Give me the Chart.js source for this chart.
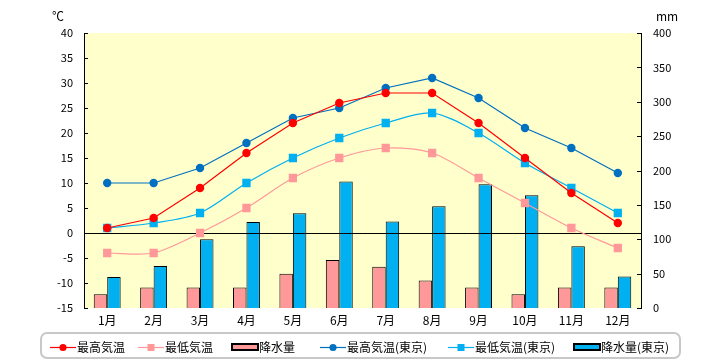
<!DOCTYPE html>
<html>
<head>
<meta charset="utf-8">
<script src="https://cdn.jsdelivr.net/npm/chart.js@4/dist/chart.umd.min.js"></script>
<style>
  html, body { margin: 0; padding: 0; background: #fff; }
</style>
</head>
<body>
<canvas id="myChart" width="720" height="360"></canvas>
<script>
var months = ['1月', '2月', '3月', '4月', '5月', '6月', '7月', '8月', '9月', '10月', '11月', '12月'];

// 気温 (℃)
var tempMax = [1, 3, 9, 16, 22, 26, 28, 28, 22, 15, 8, 2];
var tempMin = [-4, -4, 0, 5, 11, 15, 17, 16, 11, 6, 1, -3];
var tempMaxTokyo = [10, 10, 13, 18, 23, 25, 29, 31, 27, 21, 17, 12];
var tempMinTokyo = [1, 2, 4, 10, 15, 19, 22, 24, 20, 14, 9, 4];

// 降水量 (mm)
var rain = [20, 30, 30, 30, 50, 70, 60, 40, 30, 20, 30, 30];
var rainTokyo = [45, 61, 100, 125, 138, 184, 126, 148, 180, 164, 90, 46];

// tick labels
var tempTicks = [-15, -10, -5, 0, 5, 10, 15, 20, 25, 30, 35, 40];
var rainTicks = [0, 50, 100, 150, 200, 250, 300, 350, 400];

var FONT = '"Noto Sans CJK JP", "Noto Sans", sans-serif';
var legendX = [50, 138, 232, 320, 448, 574];

function lineSet(label, data, color, style, tension) {
  return {
    type: 'line',
    label: label,
    data: data,
    yAxisID: 'y',
    borderColor: color,
    backgroundColor: color,
    pointBackgroundColor: color,
    pointBorderColor: color,
    borderWidth: 1.2,
    pointStyle: style,
    pointRadius: style === 'rect' ? 5 : 3.6,
    pointHoverRadius: style === 'rect' ? 5 : 3.6,
    tension: tension,
    order: 1
  };
}

function barSet(label, data, color) {
  return {
    type: 'bar',
    label: label,
    data: data,
    yAxisID: 'y1',
    backgroundColor: color,
    borderColor: '#000',
    borderWidth: 1,
    categoryPercentage: 0.58,
    barPercentage: 1.0,
    order: 2
  };
}

var chartDecor = {
  id: 'chartDecor',
  beforeDraw: function(chart) {
    var a = chart.chartArea;
    var ctx = chart.ctx;
    ctx.save();
    ctx.fillStyle = '#FFFFCC';
    ctx.fillRect(a.left, a.top, a.right - a.left, a.bottom - a.top);
    ctx.restore();
  },
  afterDatasetDraw: function(chart, args) {
    if (args.meta.type !== 'bar') return;
    var a = chart.chartArea;
    var ctx = chart.ctx;
    var y0 = Math.round(chart.scales.y.getPixelForValue(0)) + 0.5;
    ctx.save();
    ctx.strokeStyle = '#000';
    ctx.lineWidth = 1;
    ctx.beginPath();
    ctx.moveTo(a.left, y0);
    ctx.lineTo(a.right, y0);
    ctx.stroke();
    ctx.restore();
  },
  afterDraw: function(chart) {
    var ctx = chart.ctx;
    var a = chart.chartArea;
    var sy = chart.scales.y;
    var sy1 = chart.scales.y1;
    ctx.save();
    // inward tick marks
    ctx.strokeStyle = '#000';
    ctx.lineWidth = 1;
    ctx.beginPath();
    tempTicks.forEach(function(v) {
      var p = Math.round(sy.getPixelForValue(v)) + 0.5;
      ctx.moveTo(a.left, p);
      ctx.lineTo(a.left + 4, p);
    });
    rainTicks.forEach(function(v) {
      var p = Math.round(sy1.getPixelForValue(v)) + 0.5;
      ctx.moveTo(a.right, p);
      ctx.lineTo(a.right - 4, p);
    });
    ctx.stroke();

    // unit labels
    ctx.fillStyle = '#000';
    ctx.font = '12px ' + FONT;
    ctx.textBaseline = 'middle';
    ctx.textAlign = 'center';
    ctx.fillText('℃', 58, 16);
    ctx.fillText('mm', 667, 16);

    // legend box
    ctx.strokeStyle = '#C8C8C8';
    ctx.lineWidth = 2;
    ctx.beginPath();
    ctx.roundRect(41, 333, 639, 25, 6);
    ctx.stroke();

    // legend items
    var ly = 347;
    ctx.textAlign = 'left';
    chart.data.datasets.forEach(function(ds, i) {
      var x = legendX[i];
      if (ds.type === 'line') {
        ctx.strokeStyle = ds.borderColor;
        ctx.lineWidth = 1.2;
        ctx.beginPath();
        ctx.moveTo(x, ly + 0.5);
        ctx.lineTo(x + 26, ly + 0.5);
        ctx.stroke();
        ctx.fillStyle = ds.borderColor;
        if (ds.pointStyle === 'rect') {
          ctx.fillRect(x + 13 - 3.5, ly - 3, 7, 7);
        } else {
          ctx.beginPath();
          ctx.arc(x + 13, ly + 0.5, 3.6, 0, Math.PI * 2);
          ctx.fill();
        }
      } else {
        ctx.fillStyle = ds.backgroundColor;
        ctx.fillRect(x, ly - 3, 26, 6);
        ctx.strokeStyle = '#000';
        ctx.lineWidth = 2;
        ctx.strokeRect(x, ly - 3, 26, 6);
      }
      ctx.fillStyle = '#000';
      ctx.fillText(ds.label, x + 27, ly);
    });
    ctx.restore();
  }
};

function getChart() {
  var ctx = document.getElementById('myChart').getContext('2d');
  var myChart = new Chart(ctx, {
    data: {
      labels: months,
      datasets: [
        lineSet('最高気温', tempMax, '#FF0000', 'circle', 0),
        lineSet('最低気温', tempMin, '#FF9999', 'rect', 0.3),
        barSet('降水量', rain, '#FF9999'),
        lineSet('最高気温(東京)', tempMaxTokyo, '#0070C0', 'circle', 0),
        lineSet('最低気温(東京)', tempMinTokyo, '#00B0F0', 'rect', 0.3),
        barSet('降水量(東京)', rainTokyo, '#00B0F0')
      ]
    },
    options: {
      responsive: false,
      animation: false,
      events: [],
      layout: { padding: { top: 33, bottom: 28, left: 0, right: 0 } },
      plugins: {
        legend: { display: false },
        tooltip: { enabled: false }
      },
      scales: {
        x: {
          offset: true,
          grid: { display: false, drawTicks: false },
          border: { display: false },
          ticks: { color: '#000', font: { family: FONT, size: 12 }, padding: 5, maxRotation: 0 },
          afterFit: function(s) { s.height = 24; }
        },
        y: {
          position: 'left',
          min: -15,
          max: 40,
          grid: { display: false, drawTicks: false },
          border: { display: true, color: '#000', width: 1 },
          afterBuildTicks: function(s) { s.ticks = tempTicks.map(function(v) { return { value: v }; }); },
          ticks: { color: '#000', font: { family: FONT, size: 11 }, padding: 11 },
          afterFit: function(s) { s.width = 84; }
        },
        y1: {
          position: 'right',
          min: 0,
          max: 400,
          grid: { display: false, drawTicks: false },
          border: { display: true, color: '#000', width: 1 },
          afterBuildTicks: function(s) { s.ticks = rainTicks.map(function(v) { return { value: v }; }); },
          ticks: { color: '#000', font: { family: FONT, size: 11 }, padding: 12 },
          afterFit: function(s) { s.width = 79; }
        }
      }
    },
    plugins: [chartDecor]
  });
}

getChart();
</script>
</body>
</html>
